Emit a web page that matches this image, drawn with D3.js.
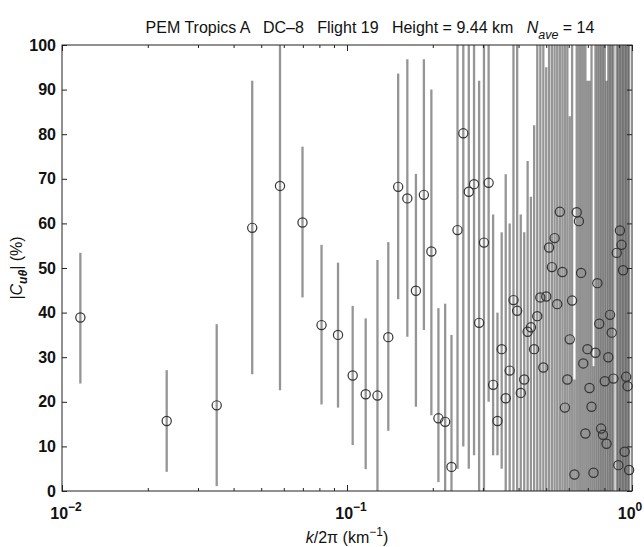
<!DOCTYPE html>
<html>
<head>
<meta charset="utf-8">
<script src="https://cdn.jsdelivr.net/npm/d3@7"></script>
<style>
  html, body { margin: 0; padding: 0; background: #fff; overflow: hidden; }
  svg { display: block; font-family: 'Liberation Sans', Arial, sans-serif; }
</style>
</head>
<body>
<div id="chart"></div>
<script>
// Wavenumber k/2pi (km^-1) of each estimate
const kVals = [
  0.0116, 0.0233, 0.0349, 0.0465, 0.0582, 0.0698, 0.0814, 0.0930, 0.1047, 0.1163,
  0.1279, 0.1396, 0.1512, 0.1628, 0.1745, 0.1861, 0.1977, 0.2093, 0.2210, 0.2326,
  0.2442, 0.2559, 0.2675, 0.2791, 0.2908, 0.3024, 0.3140, 0.3256, 0.3373, 0.3489,
  0.3605, 0.3722, 0.3838, 0.3954, 0.4071, 0.4187, 0.4303, 0.4419, 0.4536, 0.4652,
  0.4768, 0.4885, 0.5001, 0.5117, 0.5234, 0.5350, 0.5466, 0.5582, 0.5699, 0.5815,
  0.5931, 0.6048, 0.6164, 0.6280, 0.6397, 0.6513, 0.6629, 0.6745, 0.6862, 0.6978,
  0.7094, 0.7211, 0.7327, 0.7443, 0.7560, 0.7676, 0.7792, 0.7908, 0.8025, 0.8141,
  0.8257, 0.8374, 0.8490, 0.8606, 0.8839, 0.8955, 0.9071, 0.9188, 0.9304, 0.9420,
  0.9537, 0.9653, 0.9769
]
// |C_u theta| (%)
const cohVals = [
  38.9, 15.7, 19.2, 59.0, 68.4, 60.2, 37.2, 35.0, 25.9, 21.7,
  21.4, 34.5, 68.2, 65.6, 44.9, 66.4, 53.7, 16.3, 15.5, 5.4,
  58.5, 80.2, 67.1, 68.8, 37.7, 55.7, 69.1, 23.8, 15.7, 31.8,
  20.8, 27.0, 42.8, 40.4, 22.0, 25.0, 35.7, 36.7, 31.8, 39.2,
  43.4, 27.7, 43.6, 54.6, 50.2, 56.7, 41.9, 62.6, 49.1, 18.7,
  25.0, 34.0, 42.7, 3.7, 62.5, 60.5, 48.9, 28.6, 12.9, 31.8,
  23.1, 18.9, 4.1, 31.0, 46.6, 37.5, 14.0, 12.6, 24.6, 10.6,
  30.0, 39.5, 35.5, 25.2, 53.4, 5.8, 58.4, 55.2, 49.5, 8.8,
  25.6, 23.5, 4.7
]
// Error bar bottoms
const errLow = [
  24.1, 4.3, 1.1, 26.2, 22.6, 43.4, 19.4, 18.7, 10.3, 4.9,
  0, 13.5, 43.0, 34.6, 18.9, 36.1, 17, 2, 0, 0,
  5, 10, 5, 8, 0, 0, 20, 8, 8, 5,
  0, 0, 0, 0, 0, 0, 0, 0, 0, 0,
  0, 0, 0, 0, 0, 0, 0, 0, 0, 0,
  0, 0, 0, 0, 0, 0, 0, 0, 0, 0,
  0, 0, 0, 0, 0, 0, 0, 0, 0, 0,
  0, 0, 0, 0, 0, 0, 0, 0, 0, 0,
  0, 0, 0
]
// Error bar tops
const errHigh = [
  53.4, 27.1, 37.4, 92.0, 100, 77.2, 55.2, 51.2, 41.5, 38.7,
  51.8, 55.8, 93.6, 96.8, 71.1, 96.8, 90, 41, 42, 35,
  100, 100, 100, 100, 92, 100, 100, 62, 40, 58,
  71, 60, 100, 100, 62, 58, 74, 66, 82, 100,
  100, 100, 95, 100, 100, 100, 100, 100, 100, 100,
  100, 84, 100, 25, 100, 100, 100, 100, 100, 92,
  92, 100, 28, 100, 100, 100, 100, 100, 100, 92,
  100, 100, 100, 100, 100, 100, 100, 100, 100, 100,
  100, 100, 100
]

const yTicks = [0, 10, 20, 30, 40, 50, 60, 70, 80, 90, 100]
const xMajor = [0.01, 0.1, 1]
const xExponents = ['\u22122', '\u22121', '0']
const xMinor = [0.02, 0.03, 0.04, 0.05, 0.06, 0.07, 0.08, 0.09,
                0.2, 0.3, 0.4, 0.5, 0.6, 0.7, 0.8, 0.9]

const data = kVals.map((k, i) => ({ k: k, c: cohVals[i], lo: errLow[i], hi: errHigh[i] }))

// Vars for dimensions
const margin = { top: 45, right: 12, bottom: 56, left: 62 }
const width = 644
const height = 547
const innerWidth = width - margin.left - margin.right
const innerHeight = height - margin.top - margin.bottom

const svg = d3.select('#chart')
  .append('svg')
  .attr('width', width)
  .attr('height', height)

svg.append('rect').attr('width', width).attr('height', height).attr('fill', '#fff')

const g = svg.append('g')
  .attr('transform', `translate(${margin.left}, ${margin.top})`)

const x = d3.scaleLog().domain([0.01, 1]).range([0, innerWidth])
const y = d3.scaleLinear().domain([0, 100]).range([innerHeight, 0])

// Error bars
g.append('g')
  .selectAll('line')
  .data(data)
  .join('line')
  .attr('x1', d => x(d.k))
  .attr('x2', d => x(d.k))
  .attr('y1', d => y(d.lo))
  .attr('y2', d => y(d.hi))
  .attr('stroke', '#333')
  .attr('stroke-opacity', 0.52)
  .attr('stroke-width', 2.3)

// Circles
g.append('g')
  .selectAll('circle')
  .data(data)
  .join('circle')
  .attr('cx', d => x(d.k))
  .attr('cy', d => y(d.c))
  .attr('r', 4.6)
  .attr('fill', 'none')
  .attr('stroke', '#333')
  .attr('stroke-width', 1.2)

// Axes (tick marks only) - ticks point inward on all four sides
function tickOnly(sel) {
  sel.select('.domain').remove()
  sel.selectAll('.tick text').remove()
  sel.selectAll('.tick line').attr('stroke', '#222')
}

g.append('g')
  .call(d3.axisLeft(y).tickValues(yTicks).tickSize(-5))
  .call(tickOnly)

g.append('g')
  .attr('transform', `translate(${innerWidth}, 0)`)
  .call(d3.axisRight(y).tickValues(yTicks).tickSize(-5))
  .call(tickOnly)

g.append('g')
  .attr('transform', `translate(0, ${innerHeight})`)
  .call(d3.axisBottom(x).tickValues(xMajor).tickSize(-6))
  .call(tickOnly)

g.append('g')
  .attr('transform', `translate(0, ${innerHeight})`)
  .call(d3.axisBottom(x).tickValues(xMinor).tickSize(-3))
  .call(tickOnly)

g.append('g')
  .call(d3.axisTop(x).tickValues(xMajor).tickSize(-6))
  .call(tickOnly)

g.append('g')
  .call(d3.axisTop(x).tickValues(xMinor).tickSize(-3))
  .call(tickOnly)

// Tick labels
svg.append('g')
  .selectAll('text')
  .data(yTicks)
  .join('text')
  .attr('x', margin.left - 6)
  .attr('y', d => margin.top + y(d))
  .attr('dy', '0.35em')
  .attr('text-anchor', 'end')
  .attr('font-size', 16)
  .attr('font-weight', 'bold')
  .attr('fill', '#111')
  .text(d => d)

const xLabels = svg.append('g')
  .selectAll('text')
  .data(xMajor)
  .join('text')
  .attr('x', (d, i) => margin.left + x(d) + (i === xMajor.length - 1 ? -2 : 4))
  .attr('y', 519)
  .attr('text-anchor', 'middle')
  .attr('font-size', 16)
  .attr('font-weight', 'bold')
  .attr('fill', '#111')

xLabels.append('tspan').text('10')
xLabels.append('tspan')
  .attr('dy', -8)
  .attr('font-size', 12)
  .text((d, i) => xExponents[i])

// Frame
g.append('rect')
  .attr('width', innerWidth)
  .attr('height', innerHeight)
  .attr('fill', 'none')
  .attr('stroke', '#222')
  .attr('stroke-width', 1)

// Title
const title = svg.append('text')
  .attr('x', 370)
  .attr('y', 33)
  .attr('text-anchor', 'middle')
  .attr('font-size', 16)
  .attr('fill', '#111')
  .style('white-space', 'pre')

title.append('tspan').text('PEM Tropics A   DC\u20138   Flight 19   Height = 9.44 km   ')
title.append('tspan').attr('font-style', 'italic').text('N')
title.append('tspan').attr('font-style', 'italic').attr('font-size', 12.5).attr('dy', 6).text('ave')
title.append('tspan').attr('dy', -6).text(' = 14')

// X label
const xLabel = svg.append('text')
  .attr('x', margin.left + innerWidth / 2)
  .attr('y', 543)
  .attr('text-anchor', 'middle')
  .attr('font-size', 16)
  .attr('fill', '#111')

xLabel.append('tspan').attr('font-style', 'italic').text('k')
xLabel.append('tspan').text('/2\u03c0 (km')
xLabel.append('tspan').attr('font-size', 12).attr('dy', -7).text('\u22121')
xLabel.append('tspan').attr('dy', 7).text(')')

// Y label
const yLabel = svg.append('text')
  .attr('transform', `translate(22, ${margin.top + innerHeight / 2}) rotate(-90)`)
  .attr('text-anchor', 'middle')
  .attr('font-size', 16)
  .attr('fill', '#111')

yLabel.append('tspan').text('|')
yLabel.append('tspan').attr('font-style', 'italic').text('C')
yLabel.append('tspan').attr('font-style', 'italic').attr('font-weight', 'bold').attr('font-size', 12).attr('dy', 5).text('u\u03b8')
yLabel.append('tspan').attr('dy', -5).text('| (%)')
</script>
</body>
</html>
